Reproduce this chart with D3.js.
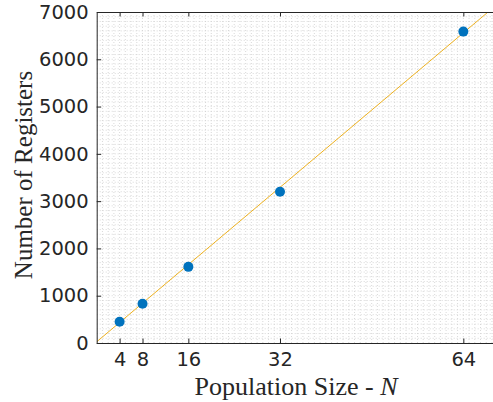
<!DOCTYPE html>
<html lang="en">
<head>
  <meta charset="UTF-8" />
  <title>Registers vs Population Size</title>
  <script src="https://d3js.org/d3.v7.min.js"></script>
  <style>
    body {
      margin: 0;
      background: #fff;
      overflow: hidden;
    }

    svg {
      display: block;
    }

    .tick-label {
      font-family: "DejaVu Sans", sans-serif;
      font-size: 19.5px;
      fill: #262626;
    }

    .axis-label {
      font-family: "Liberation Serif", serif;
      font-size: 25px;
      fill: #262626;
    }
  </style>
</head>
<body>
  <svg width="493" height="402"></svg>
  <script>
    // measured data
    const popSize = [4, 8, 16, 32, 64];
    const registers = [450, 830, 1610, 3200, 6585];

    // fitted line
    const fitSlope = 102.1;
    const fitIntercept = 25;

    const xTicks = [4, 8, 16, 32, 64];
    const yTicks = [0, 1000, 2000, 3000, 4000, 5000, 6000, 7000];

    const svg = d3.select("svg");
    const margin = { left: 96.7, top: 12, bottom: 59 };
    const innerW = 401;
    const innerH = 402 - margin.top - margin.bottom;

    const x = d3.scaleLinear().domain([0, 70]).range([margin.left, margin.left + innerW]);
    const y = d3.scaleLinear().domain([0, 7000]).range([margin.top + innerH, margin.top]);

    svg.append("defs").append("clipPath")
      .attr("id", "plot-clip")
      .append("rect")
      .attr("x", x(0))
      .attr("y", y(7000))
      .attr("width", innerW)
      .attr("height", innerH);

    // minor grid
    const grid = svg.append("g").attr("clip-path", "url(#plot-clip)");

    grid.selectAll("line.vminor")
      .data(d3.range(1, 70))
      .join("line")
      .attr("x1", d => x(d)).attr("x2", d => x(d))
      .attr("y1", y(0)).attr("y2", y(7000))
      .attr("stroke", "#cfcfcf")
      .attr("stroke-width", 0.8)
      .attr("stroke-dasharray", "1,2");

    grid.selectAll("line.hminor")
      .data(d3.range(100, 7000, 100))
      .join("line")
      .attr("x1", x(0)).attr("x2", x(70))
      .attr("y1", d => y(d)).attr("y2", d => y(d))
      .attr("stroke", "#cfcfcf")
      .attr("stroke-width", 0.8)
      .attr("stroke-dasharray", "1,2");

    // fitted line
    svg.append("line")
      .attr("clip-path", "url(#plot-clip)")
      .attr("x1", x(0))
      .attr("y1", y(fitIntercept))
      .attr("x2", x(70))
      .attr("y2", y(fitIntercept + fitSlope * 70))
      .attr("stroke", "#EDB120")
      .attr("stroke-width", 1);

    // points
    svg.append("g")
      .selectAll("circle")
      .data(popSize)
      .join("circle")
      .attr("cx", d => x(d))
      .attr("cy", (d, i) => y(registers[i]))
      .attr("r", 5)
      .attr("fill", "#0072BD");

    // axes (ticks pointing inward, box on)
    const tickLen = 4.5;
    const axisColor = "#262626";

    svg.append("g")
      .attr("transform", `translate(0,${y(0)})`)
      .call(d3.axisBottom(x).tickValues(xTicks).tickSize(-tickLen).tickPadding(9).tickSizeOuter(0))
      .call(g => g.select(".domain").attr("stroke", axisColor))
      .call(g => g.selectAll(".tick line").attr("stroke", axisColor))
      .call(g => g.selectAll(".tick text").attr("class", "tick-label").attr("font-size", null).attr("font-family", null));

    svg.append("g")
      .attr("transform", `translate(0,${y(7000)})`)
      .call(d3.axisTop(x).tickValues(xTicks).tickSize(-tickLen).tickFormat("").tickSizeOuter(0))
      .call(g => g.select(".domain").attr("stroke", axisColor))
      .call(g => g.selectAll(".tick line").attr("stroke", axisColor));

    svg.append("g")
      .attr("transform", `translate(${x(0)},0)`)
      .call(d3.axisLeft(y).tickValues(yTicks).tickFormat(d3.format("d")).tickSize(-tickLen).tickPadding(8).tickSizeOuter(0))
      .call(g => g.select(".domain").attr("stroke", axisColor))
      .call(g => g.selectAll(".tick line").attr("stroke", axisColor))
      .call(g => g.selectAll(".tick text").attr("class", "tick-label").attr("font-size", null).attr("font-family", null));

    // axis labels
    const xLabel = svg.append("text")
      .attr("class", "axis-label")
      .attr("x", 296)
      .attr("y", 395)
      .style("font-size", "26px")
      .attr("text-anchor", "middle");
    xLabel.append("tspan").text("Population Size - ");
    xLabel.append("tspan").attr("font-style", "italic").text("N");

    svg.append("text")
      .attr("class", "axis-label")
      .attr("transform", "translate(32,175) rotate(-90)")
      .attr("text-anchor", "middle")
      .text("Number of Registers");
  </script>
</body>
</html>
